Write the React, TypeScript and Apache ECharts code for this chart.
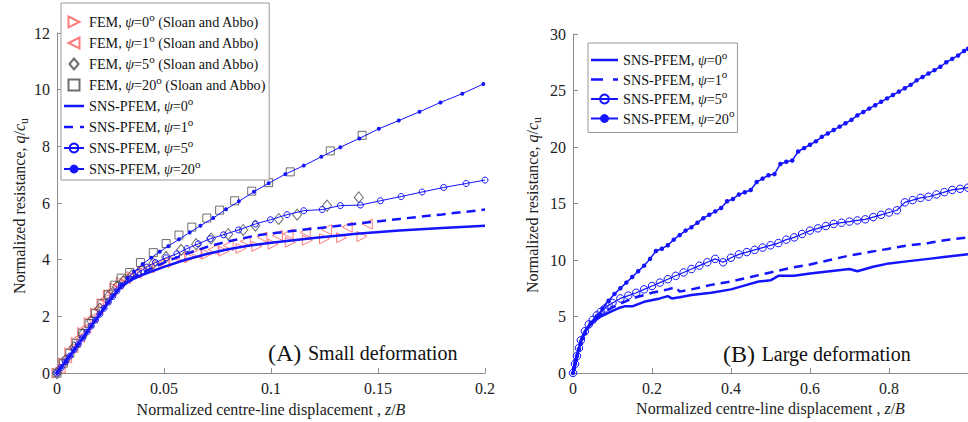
import React, { useEffect, useRef } from 'react';
import * as echarts from 'echarts';

const SERIF = '"Liberation Serif", "Times New Roman", serif';
const BLUE = '#1414ff';
const RED = '#ff5a5a';
const GRAY = '#4a4a4a';

// ---------- Panel (A) small deformation ----------
const A_FEM0_Z = [0, 0.003, 0.006, 0.009, 0.012, 0.015, 0.018, 0.021, 0.024, 0.027, 0.03, 0.035, 0.04, 0.047, 0.055, 0.062, 0.07, 0.078, 0.086, 0.0934, 0.101, 0.109, 0.117, 0.125, 0.133, 0.1425];
const A_FEM0_Q = [0, 0.36, 0.72, 1.08, 1.43, 1.78, 2.12, 2.45, 2.75, 3.0, 3.2, 3.4, 3.58, 3.78, 3.95, 4.08, 4.2, 4.3, 4.4, 4.47, 4.55, 4.62, 4.69, 4.74, 4.78, 4.82];
const A_FEM1_Z = [0.0015, 0.0045, 0.0075, 0.0105, 0.0135, 0.0165, 0.0195, 0.0225, 0.0255, 0.0285, 0.032, 0.037, 0.043, 0.05, 0.058, 0.065, 0.073, 0.08, 0.088, 0.0958, 0.103, 0.108, 0.116, 0.126, 0.1356, 0.145];
const A_FEM1_Q = [0.18, 0.54, 0.9, 1.26, 1.6, 1.95, 2.29, 2.61, 2.9, 3.13, 3.33, 3.52, 3.72, 3.9, 4.08, 4.22, 4.36, 4.5, 4.65, 4.8, 4.86, 4.91, 4.97, 5.06, 5.15, 5.26];
const A_FEM5_Z = [0, 0.004, 0.008, 0.012, 0.016, 0.02, 0.024, 0.028, 0.031, 0.035, 0.04, 0.045, 0.051, 0.058, 0.065, 0.072, 0.08, 0.087, 0.0927, 0.1036, 0.1122, 0.1262, 0.141];
const A_FEM5_Q = [0, 0.46, 0.92, 1.38, 1.84, 2.28, 2.7, 3.05, 3.25, 3.45, 3.65, 3.87, 4.1, 4.35, 4.55, 4.75, 4.9, 5.05, 5.2, 5.44, 5.59, 5.91, 6.2];
const A_FEM20_Z = [0, 0.003, 0.006, 0.009, 0.012, 0.015, 0.018, 0.021, 0.024, 0.027, 0.03, 0.034, 0.039, 0.045, 0.051, 0.057, 0.063, 0.07, 0.076, 0.083, 0.091, 0.0989, 0.109, 0.1277, 0.1426];
const A_FEM20_Q = [0, 0.35, 0.7, 1.05, 1.4, 1.75, 2.1, 2.45, 2.78, 3.1, 3.35, 3.55, 3.9, 4.25, 4.57, 4.87, 5.15, 5.47, 5.75, 6.08, 6.42, 6.72, 7.1, 7.84, 8.39];

const A_SNS0_Z = [0, 0.01, 0.02, 0.026, 0.03, 0.035, 0.04, 0.05, 0.06, 0.07, 0.08, 0.09, 0.1, 0.12, 0.14, 0.16, 0.18, 0.2];
const A_SNS0_Q = [0, 1.03, 2.08, 2.7, 3.05, 3.3, 3.47, 3.75, 4.0, 4.2, 4.37, 4.5, 4.6, 4.77, 4.92, 5.03, 5.12, 5.2];
const A_SNS1_Z = [0, 0.01, 0.02, 0.026, 0.03, 0.035, 0.04, 0.05, 0.06, 0.07, 0.08, 0.0927, 0.1, 0.12, 0.14, 0.16, 0.18, 0.2];
const A_SNS1_Q = [0, 1.03, 2.08, 2.7, 3.05, 3.33, 3.55, 3.9, 4.2, 4.45, 4.65, 4.85, 4.93, 5.1, 5.27, 5.44, 5.6, 5.77];
const A_SNS5_Z = [0, 0.002, 0.004, 0.006, 0.008, 0.01, 0.012, 0.014, 0.016, 0.018, 0.02, 0.022, 0.024, 0.026, 0.028, 0.03, 0.034, 0.038, 0.042, 0.046, 0.051, 0.056, 0.0607, 0.066, 0.0716, 0.0778, 0.0848, 0.0927, 0.0997, 0.1075, 0.1153, 0.1239, 0.1324, 0.1418, 0.1511, 0.1608, 0.1706, 0.1807, 0.1912, 0.2];
const A_SNS5_Q = [0, 0.2, 0.4, 0.6, 0.82, 1.03, 1.24, 1.45, 1.66, 1.87, 2.08, 2.29, 2.5, 2.7, 2.9, 3.08, 3.33, 3.55, 3.74, 3.9, 4.07, 4.21, 4.39, 4.56, 4.74, 4.88, 5.05, 5.26, 5.41, 5.59, 5.73, 5.77, 5.91, 5.93, 6.08, 6.23, 6.39, 6.55, 6.69, 6.81];
const A_SNS20_Z = [0, 0.002, 0.004, 0.006, 0.008, 0.01, 0.012, 0.014, 0.016, 0.018, 0.02, 0.022, 0.024, 0.026, 0.028, 0.03, 0.033, 0.036, 0.04, 0.044, 0.048, 0.052, 0.057, 0.062, 0.067, 0.073, 0.079, 0.085, 0.092, 0.0989, 0.1067, 0.1153, 0.1235, 0.1324, 0.1413, 0.1504, 0.1597, 0.1694, 0.1792, 0.1894, 0.1992];
const A_SNS20_Q = [0, 0.2, 0.4, 0.6, 0.82, 1.03, 1.24, 1.45, 1.66, 1.87, 2.08, 2.29, 2.5, 2.7, 2.9, 3.1, 3.35, 3.58, 3.85, 4.07, 4.28, 4.48, 4.72, 4.96, 5.2, 5.47, 5.78, 6.06, 6.4, 6.7, 7.02, 7.32, 7.63, 7.97, 8.28, 8.62, 8.91, 9.22, 9.55, 9.86, 10.2];

// ---------- Panel (B) large deformation ----------
const B_SNS0_Z = [0, 0.01, 0.02, 0.03, 0.05, 0.07, 0.1, 0.12, 0.13, 0.15, 0.18, 0.22, 0.24, 0.25, 0.27, 0.3, 0.35, 0.4, 0.44, 0.47, 0.5, 0.52, 0.56, 0.6, 0.65, 0.7, 0.72, 0.76, 0.8, 0.85, 0.9, 0.95, 1.0];
const B_SNS0_Q = [0, 1.5, 2.9, 3.7, 4.5, 5.0, 5.5, 5.8, 5.9, 5.9, 6.3, 6.6, 6.8, 6.6, 6.7, 6.9, 7.1, 7.4, 7.8, 8.1, 8.2, 8.6, 8.6, 8.8, 9.0, 9.2, 9.0, 9.4, 9.7, 9.9, 10.1, 10.3, 10.5];
const B_SNS1_Z = [0, 0.01, 0.02, 0.03, 0.05, 0.07, 0.1, 0.13, 0.16, 0.2, 0.24, 0.26, 0.27, 0.3, 0.35, 0.4, 0.45, 0.5, 0.55, 0.6, 0.65, 0.7, 0.75, 0.8, 0.85, 0.9, 0.95, 1.0];
const B_SNS1_Q = [0, 1.5, 2.9, 3.7, 4.6, 5.2, 5.8, 6.3, 6.7, 7.1, 7.4, 7.6, 7.2, 7.4, 7.8, 8.1, 8.5, 8.9, 9.3, 9.6, 10.0, 10.4, 10.7, 11.0, 11.3, 11.5, 11.8, 12.0];
const B_SNS5_Z = [0, 0.005, 0.01, 0.015, 0.02, 0.03, 0.04, 0.05, 0.06, 0.07, 0.08, 0.09, 0.1, 0.12, 0.14, 0.16, 0.18, 0.2, 0.22, 0.24, 0.26, 0.28, 0.3, 0.32, 0.34, 0.36, 0.38, 0.4, 0.42, 0.44, 0.46, 0.48, 0.5, 0.52, 0.54, 0.56, 0.58, 0.6, 0.62, 0.64, 0.66, 0.68, 0.7, 0.72, 0.74, 0.76, 0.78, 0.8, 0.82, 0.84, 0.86, 0.88, 0.9, 0.92, 0.94, 0.96, 0.98, 1.0];
const B_SNS5_Q = [0, 0.8, 1.5, 2.2, 2.9, 3.7, 4.3, 4.7, 5.1, 5.4, 5.7, 6.0, 6.2, 6.6, 6.85, 7.1, 7.4, 7.7, 8.0, 8.3, 8.6, 8.9, 9.2, 9.5, 9.8, 10.1, 9.8, 10.2, 10.5, 10.7, 10.9, 11.1, 11.3, 11.5, 11.8, 12.0, 12.3, 12.6, 12.8, 13.0, 13.2, 13.3, 13.4, 13.5, 13.6, 13.8, 14.0, 14.2, 14.4, 15.1, 15.3, 15.5, 15.6, 15.8, 16.0, 16.2, 16.3, 16.4];
const B_SNS20_Z = [0, 0.0025, 0.005, 0.0075, 0.01, 0.015, 0.02, 0.025, 0.03, 0.045, 0.06, 0.075, 0.09, 0.105, 0.12, 0.135, 0.15, 0.165, 0.18, 0.195, 0.21, 0.225, 0.24, 0.255, 0.27, 0.285, 0.3, 0.315, 0.33, 0.345, 0.36, 0.375, 0.39, 0.405, 0.42, 0.435, 0.45, 0.465, 0.48, 0.495, 0.51, 0.525, 0.54, 0.555, 0.57, 0.585, 0.6, 0.615, 0.63, 0.645, 0.66, 0.675, 0.69, 0.705, 0.72, 0.735, 0.75, 0.765, 0.78, 0.795, 0.81, 0.825, 0.84, 0.855, 0.87, 0.885, 0.9, 0.915, 0.93, 0.945, 0.96, 0.975, 0.99, 1.0];
const B_SNS20_Q = [0, 0.4, 0.8, 1.15, 1.5, 2.1, 2.6, 3.1, 3.5, 4.4, 5.0, 5.7, 6.4, 7.0, 7.5, 8.0, 8.5, 9.0, 9.5, 10.1, 10.8, 11.0, 11.3, 11.8, 12.2, 12.6, 12.9, 13.3, 13.7, 14.0, 14.3, 14.6, 15.2, 15.4, 15.8, 16.0, 16.2, 16.9, 17.2, 17.5, 17.6, 18.5, 18.7, 18.8, 19.6, 19.9, 20.2, 20.5, 20.9, 21.2, 21.5, 21.8, 22.1, 22.4, 22.8, 23.1, 23.4, 23.7, 24.0, 24.3, 24.6, 24.9, 25.2, 25.5, 25.9, 26.2, 26.5, 26.8, 27.1, 27.5, 27.8, 28.1, 28.5, 28.7];

// axis ticks
const A_X_MAX = 0.2, A_X_STEP = 0.05, A_Y_MAX = 12, A_Y_STEP = 2;
const B_X_MAX = 1, B_X_STEP = 0.2, B_Y_MAX = 30, B_Y_STEP = 5;

const N_FEM0 = 'FEM, ψ=0o (Sloan and Abbo)';
const N_FEM1 = 'FEM, ψ=1o (Sloan and Abbo)';
const N_FEM5 = 'FEM, ψ=5o (Sloan and Abbo)';
const N_FEM20 = 'FEM, ψ=20o (Sloan and Abbo)';
const N_SNS0 = 'SNS-PFEM, ψ=0o';
const N_SNS1 = 'SNS-PFEM, ψ=1o';
const N_SNS5 = 'SNS-PFEM, ψ=5o';
const N_SNS20 = 'SNS-PFEM, ψ=20o';

const zip = (xs: number[], ys: number[]) => xs.map((x, i) => [x, ys[i]]);

const richLegend = (name: string) =>
  name.replace('ψ', '{i|ψ}').replace(/=(\d+)o/, '=$1{s|o}');

// legend icon: a horizontal bar (solid or dashed) in a w x h box
const barIcon = (w: number, h: number, segs: number[][]) => {
  const y0 = h / 2 - 1.2, y1 = h / 2 + 1.2;
  let d = `M0,0 L0.01,0 L0,0.01 Z M${w},${h} L${w - 0.01},${h} L${w},${h - 0.01} Z`;
  segs.forEach(([a, b]) => { d += ` M${a},${y0} L${b},${y0} L${b},${y1} L${a},${y1} Z`; });
  return 'path://' + d;
};

export default function App() {
  const ref = useRef<HTMLDivElement>(null);
  useEffect(() => {
    document.body.style.margin = '0';
    const chart = echarts.init(ref.current!, null, { renderer: 'svg' });
    const axisLineStyle = { color: '#8c8c8c', width: 1 };
    const labelStyle = { fontFamily: SERIF, fontSize: 16, color: '#222' };
    const nameRich = {
      r: { fontFamily: SERIF, fontSize: 16, color: '#222' },
      i: { fontFamily: SERIF, fontStyle: 'italic' as const, fontSize: 16, color: '#222' },
    };
    const titleRich = {
      r: { fontFamily: SERIF, fontSize: 16, fill: '#222' },
      i: { fontFamily: SERIF, fontStyle: 'italic' as const, fontSize: 16, fill: '#222' },
      sub: { fontFamily: SERIF, fontSize: 12, fill: '#222', verticalAlign: 'bottom' as const, lineHeight: 12 },
    };
    const mkX = (idx: number, max: number, step: number, hideMax: boolean) => ({
      type: 'value', gridIndex: idx, min: 0, max, interval: step,
      axisLine: { show: true, lineStyle: axisLineStyle },
      axisTick: { show: true, inside: true, length: 5, lineStyle: axisLineStyle },
      axisLabel: { ...labelStyle, margin: 7, showMaxLabel: !hideMax },
      splitLine: { show: false },
      name: '{r|Normalized centre-line displacement , }{i|z}{r|/}{i|B}',
      nameLocation: 'middle', nameGap: 27,
      nameTextStyle: { fontFamily: SERIF, fontSize: 16, color: '#222', rich: nameRich },
    });
    const mkY = (idx: number, max: number, step: number) => ({
      type: 'value', gridIndex: idx, min: 0, max, interval: step,
      axisLine: { show: true, lineStyle: axisLineStyle },
      axisTick: { show: true, inside: true, length: 5, lineStyle: axisLineStyle },
      axisLabel: { ...labelStyle, margin: 7 },
      splitLine: { show: false },
    });
    const yTitle = (x: number, y: number) => ({
      type: 'text', x, y, rotation: Math.PI / 2,
      style: {
        text: '{r|Normalized resistance, }{i|q}{r|/}{i|c}{sub|u}',
        rich: titleRich, align: 'center', verticalAlign: 'middle', lineHeight: 22,
      },
    });
    const fem = (name: string, z: number[], q: number[], symbol: string, color: string, size: any) => ({
      name, type: 'scatter', xAxisIndex: 0, yAxisIndex: 0, data: zip(z, q),
      symbol, symbolSize: size,
      itemStyle: { color: 'transparent', borderColor: color, borderWidth: 1 },
      z: 2,
    });
    const sns = (name: string, idx: number, z: number[], q: number[], opts: any) => ({
      name, type: 'line', xAxisIndex: idx, yAxisIndex: idx, data: zip(z, q),
      showSymbol: opts.symbol !== 'none', symbol: opts.symbol, symbolSize: opts.size,
      lineStyle: { color: BLUE, width: opts.width, type: opts.dash ? [9, 6] : 'solid' },
      itemStyle: opts.itemStyle || { color: BLUE },
      z: 3,
    });
    const legendRich = {
      i: { fontFamily: SERIF, fontStyle: 'italic' as const, fontSize: 14.2, color: '#111' },
      s: { fontFamily: SERIF, fontSize: 11, color: '#111', verticalAlign: 'top' as const, lineHeight: 12 },
    };
    const legendText = { fontFamily: SERIF, fontSize: 14.2, color: '#111', lineHeight: 22, rich: legendRich };
    const hollowBlue = { color: 'transparent', borderColor: BLUE, borderWidth: 1 };

    chart.setOption({
      animation: false,
      backgroundColor: '#fff',
      grid: [
        { left: 57, top: 33, width: 428, height: 342 },
        { left: 573, top: 34, width: 396, height: 339 },
      ],
      xAxis: [mkX(0, A_X_MAX, A_X_STEP, false), mkX(1, B_X_MAX, B_X_STEP, true)],
      yAxis: [mkY(0, A_Y_MAX, A_Y_STEP), mkY(1, B_Y_MAX, B_Y_STEP)],
      legend: [
        {
          data: [
            { name: N_FEM0 }, { name: N_FEM1 }, { name: N_FEM5 }, { name: N_FEM20 },
            { name: N_SNS0, icon: barIcon(20, 11, [[0, 20]]) },
            { name: N_SNS1, icon: barIcon(20, 11, [[0, 9], [16, 20]]) },
            { name: N_SNS5 }, { name: N_SNS20 },
          ],
          orient: 'vertical', left: 61, top: 3,
          padding: [8, 3, 0, 2], itemGap: -1, itemWidth: 20, itemHeight: 11,
          backgroundColor: '#fff', borderColor: '#999', borderWidth: 1,
          textStyle: legendText, formatter: richLegend,
          selectedMode: false,
        },
        {
          data: [
            { name: N_SNS0, icon: barIcon(27, 11, [[0, 27]]) },
            { name: N_SNS1, icon: barIcon(27, 11, [[0, 12], [22, 27]]) },
            { name: N_SNS5 }, { name: N_SNS20 },
          ],
          orient: 'vertical', left: 588, top: 43,
          padding: [6, 3, 3, 2], itemGap: -2.5, itemWidth: 27, itemHeight: 11,
          backgroundColor: '#fff', borderColor: '#999', borderWidth: 1,
          textStyle: legendText, formatter: richLegend,
          selectedMode: false,
        },
      ],
      series: [
        fem(N_FEM0, A_FEM0_Z, A_FEM0_Q, 'path://M0,0 L10,5 L0,10 Z', RED, 10),
        fem(N_FEM1, A_FEM1_Z, A_FEM1_Q, 'path://M10,0 L0,5 L10,10 Z', RED, 10),
        fem(N_FEM5, A_FEM5_Z, A_FEM5_Q, 'path://M5,0 L10,6 L5,12 L0,6 Z', GRAY, [9, 11]),
        fem(N_FEM20, A_FEM20_Z, A_FEM20_Q, 'path://M0,0 L10,0 L10,10 L0,10 Z', GRAY, 8),
        sns(N_SNS0, 0, A_SNS0_Z, A_SNS0_Q, { symbol: 'none', width: 2.5 }),
        sns(N_SNS1, 0, A_SNS1_Z, A_SNS1_Q, { symbol: 'none', width: 2.5, dash: true }),
        sns(N_SNS5, 0, A_SNS5_Z, A_SNS5_Q, { symbol: 'circle', size: 6, width: 1, itemStyle: hollowBlue }),
        sns(N_SNS20, 0, A_SNS20_Z, A_SNS20_Q, { symbol: 'circle', size: 4, width: 1 }),
        sns(N_SNS0, 1, B_SNS0_Z, B_SNS0_Q, { symbol: 'none', width: 2.5 }),
        sns(N_SNS1, 1, B_SNS1_Z, B_SNS1_Q, { symbol: 'none', width: 2.5, dash: true }),
        sns(N_SNS5, 1, B_SNS5_Z, B_SNS5_Q, { symbol: 'circle', size: 7.5, width: 1.2, itemStyle: hollowBlue }),
        sns(N_SNS20, 1, B_SNS20_Z, B_SNS20_Q, { symbol: 'circle', size: 4.5, width: 1.5 }),
      ],
      graphic: [
        yTitle(19, 206),
        yTitle(532, 205),
        {
          type: 'text', left: 268, top: 341,
          style: {
            text: '{a|(A)}  {b|Small deformation}',
            rich: {
              a: { fontFamily: SERIF, fontSize: 24, fill: '#111' },
              b: { fontFamily: SERIF, fontSize: 20, fill: '#111' },
            },
          },
        },
        {
          type: 'text', left: 723, top: 342,
          style: {
            text: '{a|(B)}  {b|Large deformation}',
            rich: {
              a: { fontFamily: SERIF, fontSize: 24, fill: '#111' },
              b: { fontFamily: SERIF, fontSize: 20, fill: '#111' },
            },
          },
        },
      ],
    });
    return () => chart.dispose();
  }, []);
  return <div ref={ref} style={{ width: 968, height: 422 }} />;
}
